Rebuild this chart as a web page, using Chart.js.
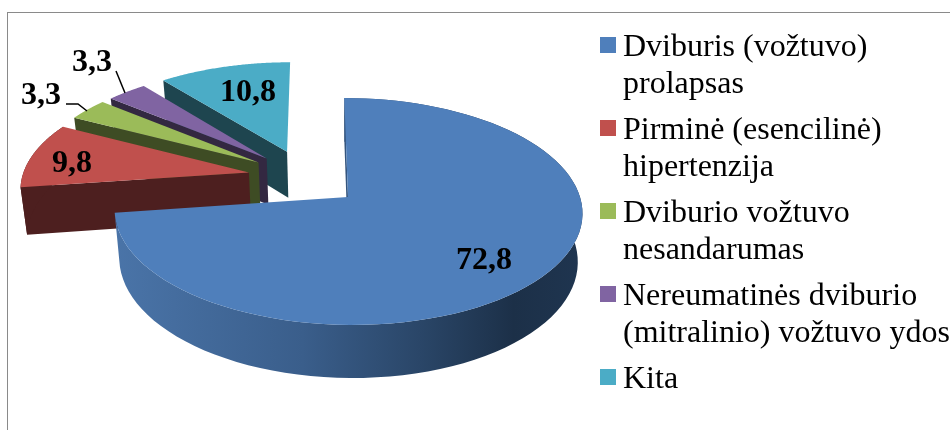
<!DOCTYPE html>
<html>
<head>
<meta charset="utf-8">
<script src="https://cdn.jsdelivr.net/npm/chart.js@4"></script>
<style>
  html, body { margin: 0; padding: 0; background: #fff; }
  #wrap { position: relative; width: 950px; height: 430px; overflow: hidden; }
  #frame { position: absolute; left: 7px; top: 12px; width: 960px; height: 440px;
           border-left: 1.5px solid #8a8a8a; border-top: 1.5px solid #8a8a8a; }
  #legend { position: absolute; left: 600px; top: 27px; white-space: nowrap;
            font-family: "Liberation Serif", serif; font-size: 32px; line-height: 37px; color: #000; }
  .item { position: relative; padding-left: 23px; margin-bottom: 9px; }
  .box { position: absolute; left: 0; top: 10px; width: 16px; height: 16px; }
  canvas { position: absolute; left: 0; top: 0; }
</style>
</head>
<body>
<div id="wrap">
  <div id="frame"></div>
  <canvas id="myChart" width="950" height="430"></canvas>
  <div id="legend"></div>
</div>
<script>
const categories = [
  'Dviburis (vožtuvo) prolapsas',
  'Pirminė (esencilinė) hipertenzija',
  'Dviburio vožtuvo nesandarumas',
  'Nereumatinės dviburio (mitralinio) vožtuvo ydos',
  'Kita'
];
const legendLines = [
  ['Dviburis (vožtuvo)', 'prolapsas'],
  ['Pirminė (esencilinė)', 'hipertenzija'],
  ['Dviburio vožtuvo', 'nesandarumas'],
  ['Nereumatinės dviburio', '(mitralinio) vožtuvo ydos'],
  ['Kita']
];
const values = [72.8, 9.8, 3.3, 3.3, 10.8];

const topColors = ['#4f7fbb', '#c0504d', '#9bbb59', '#8064a2', '#4bacc6'];
const wallColors = ['#2f4d73', '#4d1f1f', '#3e4c24', '#332841', '#1e454f'];

// where the labels sit, and the leader lines of the two small slices
const labelPos = [[484, 261], [72, 164], [41, 96], [92, 63], [248, 93]];
const leaders = [null, null, [[66, 104], [78, 104], [87, 111]], [[116, 71], [125, 93]], null];

// projection of the flat pie onto the tilted 3d look
const view = { x: 348, y: 197, sx: 232, sy: 111.6, persp: 0.1277, skew: 0.018,
               depth: 47.8, bottomSy: 116.2, bottomSx: 0.98 };
const explodeBy = [0, 0.49, 0.51, 0.51, 0.505];
const explodeDir = 315 * Math.PI / 180;

function project(u, v, bottom) {
  const k = 1 / (1 - view.persp * v);
  const sx = bottom ? view.sx * view.bottomSx : view.sx;
  const sy = bottom ? view.bottomSy : view.sy;
  return [view.x + sx * (u + view.skew * v) * k,
          view.y + (bottom ? view.depth : 0) + sy * v * k];
}

function shape(ctx, pts) {
  ctx.beginPath();
  pts.forEach(function (p, i) { i ? ctx.lineTo(p[0], p[1]) : ctx.moveTo(p[0], p[1]); });
  ctx.closePath();
  ctx.fill();
}

const pie3d = {
  id: 'pie3d',
  beforeDatasetsDraw(chart) {
    const ctx = chart.ctx;
    const arcs = chart.getDatasetMeta(0).data;
    const order = [4, 3, 2, 1, 0];

    order.forEach(function (i) {
      const p = arcs[i].getProps(['startAngle', 'endAngle']);
      let ox = 0, oy = 0;
      if (i > 0) {
        // the small slices are pulled out and fan towards the same side
        const mid = (p.startAngle + p.endAngle) / 2 + Math.PI / 2;
        const dir = (mid + explodeDir) / 2;
        ox = Math.sin(dir) * explodeBy[i];
        oy = -Math.cos(dir) * explodeBy[i];
      }
      const rim = [];
      const steps = 90;
      for (let s = 0; s <= steps; s++) {
        const a = p.startAngle + (p.endAngle - p.startAngle) * s / steps;
        rim.push([Math.cos(a) + ox, Math.sin(a) + oy]);
      }
      const top = rim.map(function (q) { return project(q[0], q[1], false); });
      const bot = rim.map(function (q) { return project(q[0], q[1], true); });
      const apexT = project(ox, oy, false);
      const apexB = project(ox, oy, true);

      let wall = wallColors[i];
      if (i === 0) {
        wall = ctx.createLinearGradient(115, 0, 584, 0);
        wall.addColorStop(0, '#4a74a8');
        wall.addColorStop(0.4, '#3a5e8b');
        wall.addColorStop(0.65, '#2a4668');
        wall.addColorStop(0.85, '#1c3048');
        wall.addColorStop(1, '#1f3550');
      }
      ctx.fillStyle = wall;
      shape(ctx, [apexT, top[0], bot[0], apexB]);
      // only the two front slices show their rounded side
      if (i < 2) shape(ctx, top.concat(bot.slice().reverse()));

      ctx.fillStyle = topColors[i];
      shape(ctx, [apexT].concat(top));
    });

    ctx.strokeStyle = '#000';
    ctx.lineWidth = 1.5;
    leaders.forEach(function (line) {
      if (!line) return;
      ctx.beginPath();
      line.forEach(function (q, n) { n ? ctx.lineTo(q[0], q[1]) : ctx.moveTo(q[0], q[1]); });
      ctx.stroke();
    });

    ctx.fillStyle = '#000';
    ctx.font = 'bold 32px "Liberation Serif"';
    ctx.textAlign = 'center';
    ctx.textBaseline = 'middle';
    values.forEach(function (v, i) {
      ctx.fillText(String(v).replace('.', ','), labelPos[i][0], labelPos[i][1]);
    });
    return false;
  }
};

new Chart(document.getElementById('myChart'), {
  type: 'pie',
  data: {
    labels: categories,
    datasets: [{ data: values, backgroundColor: topColors }]
  },
  options: {
    responsive: false,
    animation: false,
    plugins: { legend: { display: false }, tooltip: { enabled: false } }
  },
  plugins: [pie3d]
});

// html legend
legendLines.forEach(function (lines, i) {
  const item = document.createElement('div');
  item.className = 'item';
  const box = document.createElement('span');
  box.className = 'box';
  box.style.background = topColors[i];
  item.appendChild(box);
  lines.forEach(function (t, n) {
    if (n) item.appendChild(document.createElement('br'));
    item.appendChild(document.createTextNode(t));
  });
  document.getElementById('legend').appendChild(item);
});
</script>
</body>
</html>
